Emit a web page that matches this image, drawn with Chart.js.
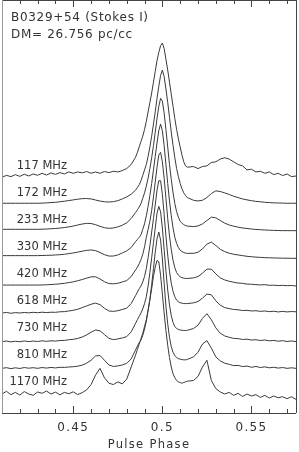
<!DOCTYPE html>
<html><head><meta charset="utf-8">
<script src="https://cdn.jsdelivr.net/npm/chart.js@4"></script>
<style>html,body{margin:0;padding:0;background:#fff;overflow:hidden}</style>
</head><body>
<canvas id="c" width="299" height="452"></canvas>
<script>
// Pulse phase sample grid
const phase = [
0.41,0.4125,0.415,0.4175,0.42,0.4225,0.425,0.4275,0.43,0.4325,0.435,0.4375,0.44,0.4425,0.445,0.4475,0.45,0.4525,0.455,0.4575,0.46,0.4625,0.465,0.4675,0.47,0.4725,0.475,0.4775,0.48,0.4825,0.485,
0.486,0.487,0.488,0.489,0.49,0.491,0.492,0.493,0.494,0.495,0.496,0.497,0.498,0.499,0.5,0.501,0.502,0.503,0.504,0.505,0.506,0.507,0.508,0.509,0.51,0.511,0.512,0.513,0.514,
0.5175,0.52,0.5225,0.525,0.5275,0.53,0.5325,0.535,0.5375,0.54,0.5425,0.545,0.5475,0.55,0.5525,0.555,0.5575,0.56,0.5625,0.565,0.5675,0.57,0.5725,0.575];

// Normalised intensity profiles (peak = 1)
const p117 = [0.005,0.02,0.01,0.025,0.012,0.028,0.015,0.03,0.02,0.035,0.022,0.038,0.027,0.04,0.03,0.045,0.035,0.045,0.038,0.048,0.035,0.045,0.035,0.048,0.04,0.05,0.045,0.055,0.07,0.1,0.155,
0.19,0.23,0.27,0.31,0.36,0.42,0.49,0.56,0.63,0.71,0.79,0.87,0.93,0.98,1.0,0.96,0.88,0.8,0.71,0.62,0.53,0.44,0.36,0.29,0.23,0.17,0.12,0.09,0.08,
0.085,0.07,0.085,0.09,0.115,0.12,0.14,0.15,0.14,0.12,0.1,0.09,0.06,0.065,0.045,0.05,0.035,0.045,0.025,0.035,0.018,0.03,0.01,0.015];
const p172 = [0.013,0.013,0.013,0.013,0.013,0.013,0.013,0.013,0.013,0.014,0.016,0.018,0.02,0.024,0.028,0.033,0.038,0.043,0.047,0.048,0.045,0.037,0.029,0.024,0.022,0.025,0.032,0.045,0.06,0.08,0.11,
0.13,0.15,0.18,0.22,0.26,0.3,0.36,0.43,0.51,0.6,0.69,0.79,0.88,0.96,1.0,0.95,0.86,0.76,0.65,0.54,0.44,0.35,0.27,0.21,0.16,0.12,0.09,0.07,0.055,
0.035,0.03,0.035,0.055,0.085,0.105,0.1,0.09,0.078,0.065,0.055,0.045,0.038,0.032,0.027,0.024,0.02,0.018,0.016,0.015,0.014,0.013,0.013,0.013];
const p233 = [0.02,0.02,0.02,0.02,0.02,0.02,0.02,0.02,0.02,0.021,0.022,0.024,0.026,0.029,0.033,0.038,0.044,0.052,0.059,0.064,0.063,0.054,0.042,0.032,0.027,0.03,0.038,0.05,0.068,0.1,0.145,
0.165,0.185,0.21,0.25,0.29,0.34,0.4,0.47,0.55,0.64,0.74,0.84,0.93,0.99,0.97,0.88,0.76,0.63,0.5,0.39,0.29,0.21,0.15,0.11,0.08,0.065,0.055,0.048,0.044,
0.04,0.045,0.06,0.085,0.11,0.105,0.085,0.066,0.052,0.043,0.036,0.03,0.026,0.022,0.019,0.017,0.015,0.013,0.012,0.011,0.01,0.01,0.01,0.01];
const p330 = [0.025,0.025,0.025,0.025,0.025,0.025,0.025,0.025,0.025,0.026,0.027,0.028,0.03,0.032,0.035,0.04,0.045,0.051,0.058,0.064,0.067,0.062,0.048,0.032,0.022,0.022,0.03,0.045,0.06,0.085,0.13,
0.145,0.16,0.18,0.22,0.26,0.32,0.39,0.47,0.56,0.66,0.76,0.86,0.95,1.0,0.95,0.84,0.7,0.56,0.43,0.32,0.23,0.16,0.115,0.085,0.065,0.055,0.048,0.044,0.042,
0.042,0.05,0.075,0.11,0.125,0.1,0.072,0.055,0.043,0.035,0.03,0.025,0.02,0.017,0.014,0.012,0.01,0.009,0.008,0.007,0.006,0.006,0.005,0.005];
const p420 = [0.007,0.007,0.007,0.007,0.007,0.007,0.007,0.007,0.007,0.008,0.009,0.011,0.013,0.016,0.02,0.025,0.031,0.039,0.048,0.058,0.068,0.068,0.052,0.032,0.018,0.016,0.02,0.03,0.04,0.07,0.12,
0.14,0.165,0.195,0.235,0.29,0.36,0.42,0.48,0.56,0.66,0.77,0.88,0.97,0.99,0.92,0.8,0.65,0.5,0.37,0.27,0.19,0.135,0.1,0.08,0.068,0.062,0.058,0.056,0.056,
0.06,0.07,0.095,0.125,0.125,0.09,0.06,0.045,0.035,0.028,0.022,0.02,0.014,0.013,0.01,0.008,0.01,0.005,0.006,0.003,0.005,0.002,0.004,0.0];
const p618 = [0.0,0.004,-0.002,0.003,0.0,0.004,0.001,0.005,0.002,0.006,0.003,0.006,0.005,0.009,0.01,0.015,0.02,0.028,0.04,0.052,0.065,0.073,0.062,0.035,0.015,0.012,0.017,0.026,0.036,0.07,0.13,
0.155,0.18,0.2,0.23,0.27,0.33,0.41,0.5,0.6,0.7,0.8,0.91,0.98,0.98,0.88,0.73,0.57,0.43,0.31,0.22,0.16,0.12,0.095,0.083,0.076,0.073,0.07,0.07,0.07,
0.075,0.085,0.11,0.14,0.135,0.09,0.058,0.04,0.033,0.026,0.024,0.018,0.02,0.015,0.017,0.012,0.015,0.01,0.013,0.008,0.012,0.008,0.011,0.009];
const p730 = [-0.012,-0.008,-0.014,-0.009,-0.013,-0.007,-0.012,-0.008,-0.011,-0.006,-0.01,-0.006,-0.008,-0.004,-0.003,0.002,0.005,0.012,0.022,0.038,0.058,0.074,0.068,0.04,0.012,0.003,0.008,0.015,0.025,0.06,0.125,
0.15,0.175,0.2,0.23,0.27,0.32,0.4,0.5,0.61,0.72,0.83,0.94,0.99,0.95,0.83,0.67,0.51,0.37,0.26,0.18,0.13,0.1,0.085,0.078,0.074,0.072,0.07,0.07,0.072,
0.085,0.11,0.16,0.195,0.15,0.09,0.05,0.03,0.02,0.012,0.01,0.004,0.006,0.0,0.002,-0.004,0.0,-0.006,-0.003,-0.009,-0.005,-0.011,-0.007,-0.012];
const p810 = [-0.01,-0.005,-0.012,-0.006,-0.011,-0.004,-0.009,-0.005,-0.01,-0.004,-0.008,-0.003,-0.007,-0.002,-0.003,0.0,0.002,0.006,0.014,0.028,0.05,0.082,0.085,0.05,0.015,0.004,0.008,0.015,0.027,0.06,0.127,
0.155,0.18,0.2,0.235,0.28,0.34,0.42,0.5,0.61,0.73,0.85,0.95,1.0,0.94,0.8,0.62,0.45,0.32,0.22,0.15,0.11,0.085,0.07,0.062,0.058,0.055,0.053,0.053,0.056,
0.075,0.11,0.17,0.195,0.14,0.075,0.045,0.028,0.02,0.01,0.012,0.003,0.007,-0.002,0.004,-0.004,0.001,-0.006,-0.002,-0.008,-0.004,-0.01,-0.006,-0.01];
const p1170 = [0.0,0.02,-0.005,0.012,-0.008,0.018,0.0,-0.01,0.015,0.005,0.022,0.0,0.014,-0.006,0.012,0.002,0.016,-0.004,0.01,0.03,0.07,0.14,0.19,0.12,0.08,0.07,0.09,0.075,0.11,0.2,0.29,
0.33,0.37,0.41,0.45,0.5,0.55,0.62,0.7,0.78,0.87,0.94,0.99,0.98,0.88,0.74,0.6,0.47,0.36,0.27,0.2,0.15,0.12,0.1,0.09,0.085,0.08,0.085,0.09,0.095,
0.1,0.13,0.2,0.25,0.1,0.04,0.015,0.0,0.012,-0.01,0.005,-0.018,0.0,-0.015,-0.005,-0.025,-0.01,-0.03,-0.015,-0.028,-0.02,-0.035,-0.02,-0.04];

const freqLabels = ['117 MHz','172 MHz','233 MHz','330 MHz','420 MHz','618 MHz','730 MHz','810 MHz','1170 MHz'];
const profiles = [p117,p172,p233,p330,p420,p618,p730,p810,p1170];
const tickValues = [0.45,0.5,0.55];
const tickLabels = ['0.45','0.5','0.55'];
const titleLines = ['B0329+54 (Stokes I)','DM= 26.756 pc/cc'];
const xTitle = 'Pulse Phase';

const AMP = 5;            // vertical units per unit of normalised intensity
const N = profiles.length;
const FONT = '"DejaVu Sans", sans-serif';

const datasets = profiles.map((p, k) => ({
  label: freqLabels[k],
  data: phase.map((x, i) => ({x: x, y: (N - 1 - k) + AMP * p[i]})),
  borderColor: '#3a3a3a', borderWidth: 1, pointRadius: 0, tension: 0, fill: false
}));

const spacing = {
  id: 'spacing',
  beforeDraw(chart) { chart.ctx.letterSpacing = '1.3px'; }
};

const decor = {
  id: 'decor',
  afterDatasetsDraw(chart) {
    const ctx = chart.ctx, a = chart.chartArea, xs = chart.scales.x, ys = chart.scales.y;
    ctx.save();
    ctx.letterSpacing = '0px';
    // frame
    ctx.lineWidth = 1;
    ctx.strokeStyle = '#444';
    ctx.beginPath();
    ctx.moveTo(a.left, a.bottom + 0.5); ctx.lineTo(a.right, a.bottom + 0.5);
    ctx.moveTo(a.right + 0.5, a.top); ctx.lineTo(a.right + 0.5, a.bottom);
    ctx.moveTo(a.left, a.top + 0.5); ctx.lineTo(a.right, a.top + 0.5);
    ctx.stroke();
    ctx.strokeStyle = '#999';
    ctx.beginPath();
    ctx.moveTo(a.left + 0.5, a.top); ctx.lineTo(a.left + 0.5, a.bottom);
    ctx.stroke();
    // ticks inside, bottom and top
    ctx.strokeStyle = '#444';
    ctx.beginPath();
    for (let i = 42; i <= 57; i++) {
      const v = i / 100;
      const px = Math.round(xs.getPixelForValue(v)) + 0.5;
      const major = (i % 5 === 0);
      const len = major ? 7 : 4;
      ctx.moveTo(px, a.bottom); ctx.lineTo(px, a.bottom - len);
      ctx.moveTo(px, a.top); ctx.lineTo(px, a.top + len);
    }
    ctx.stroke();
    // frequency labels
    ctx.fillStyle = '#333';
    ctx.font = '11.5px ' + FONT;
    ctx.textAlign = 'right';
    ctx.textBaseline = 'alphabetic';
    freqLabels.forEach((t, k) => {
      const y = ys.getPixelForValue(N - 1 - k) - 9.5;
      ctx.fillText(t, 67, y);
    });
    // title lines
    ctx.textAlign = 'left';
    ctx.font = '12px ' + FONT;
    ctx.letterSpacing = '0.7px';
    ctx.fillText(titleLines[0], 11, 20.5);
    ctx.fillText(titleLines[1], 11, 37.5);
    ctx.restore();
  }
};

new Chart(document.getElementById('c'), {
  type: 'line',
  data: {datasets},
  options: {
    responsive: false, animation: false, devicePixelRatio: 1,
    layout: {padding: {left: 2, right: 3, top: 0, bottom: 0}},
    plugins: {legend: {display: false}, tooltip: {enabled: false}},
    scales: {
      x: {
        type: 'linear', min: 0.41, max: 0.575, position: 'bottom',
        afterFit(s) { s.height = 39; },
        afterBuildTicks(s) { s.ticks = tickValues.map(v => ({value: v})); },
        grid: {display: false}, border: {display: false},
        ticks: {
          autoSkip: false, maxRotation: 0, padding: 0, color: '#333',
          font: {family: FONT, size: 12},
          callback: (v) => { const i = tickValues.indexOf(v); return i >= 0 ? tickLabels[i] : ''; }
        },
        title: {display: true, text: xTitle, color: '#333', font: {family: FONT, size: 11.5}, padding: {top: 0, bottom: 0}}
      },
      y: {type: 'linear', display: false, min: -0.7037, max: 14.593}
    }
  },
  plugins: [spacing, decor]
});
</script>
</body></html>
